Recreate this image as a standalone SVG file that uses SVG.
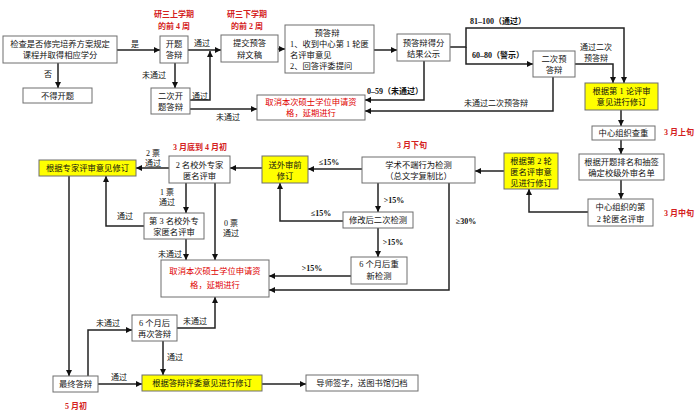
<svg xmlns="http://www.w3.org/2000/svg" width="700" height="415" viewBox="0 0 700 415">
<style>
text{font-family:"Liberation Serif","Noto Sans CJK SC",serif;font-size:8.3px;fill:#111;text-anchor:middle}
.b{fill:#fff;stroke:#6e6e6e;stroke-width:1}
.y{fill:#ffff00;stroke:#6e6e6e;stroke-width:1}
.r{fill:#e00000}
.t{fill:#d42020;font-weight:bold;font-size:8px}
.l{text-anchor:start}
.c{fill:none;stroke:#222;stroke-width:1.5;marker-end:url(#a)}
.lab{font-size:8px}
.n{font-weight:bold}
</style>
<defs>
<marker id="a" markerUnits="userSpaceOnUse" markerWidth="6" markerHeight="6" refX="6" refY="3" orient="auto">
<path d="M0,0 L6,3 L0,6 z" fill="#111"/>
</marker>
</defs>
<rect width="700" height="415" fill="#fff"/>

<g id="connectors">
<path class="c" d="M117,50 H160"/>
<path class="c" d="M58,63 V88"/>
<path class="c" d="M188,50 H221"/>
<path class="c" d="M175,63 V88"/>
<path class="c" d="M190,100 H210 V51"/>
<path class="c" d="M190,109 H257"/>
<path class="c" d="M278,49 H285"/>
<path class="c" d="M374,50 H397"/>
<path class="c" d="M450,47 H466 V28 H624 V83"/>
<path class="c" d="M466,47 V64 H533"/>
<path class="c" d="M575,64 H613 V83"/>
<path class="c" d="M553,77 V111 H365"/>
<path class="c" d="M424,61 V100 H365"/>
<path class="c" d="M621,110 V126"/>
<path class="c" d="M621,140 V154"/>
<path class="c" d="M621,180 V199"/>
<path class="c" d="M588,212 H529 V189"/>
<path class="c" d="M504,171 H475"/>
<path class="c" d="M362,169 H308"/>
<path class="c" d="M378,183 V212"/>
<path class="c" d="M343,221 H280 V183"/>
<path class="c" d="M378,228 V257"/>
<path class="c" d="M351,276 H269"/>
<path class="c" d="M449,183 V290 H269"/>
<path class="c" d="M262,168 H230"/>
<path class="c" d="M169,168 H136"/>
<path class="c" d="M186,183 V213"/>
<path class="c" d="M215,183 V260"/>
<path class="c" d="M144,226 H106 V176"/>
<path class="c" d="M186,239 V260"/>
<path class="c" d="M69,176 V376"/>
<path class="c" d="M88,376 V330 H132"/>
<path class="c" d="M177,328 H215 V297"/>
<path class="c" d="M163,341 V375"/>
<path class="c" d="M98,384 H142"/>
<path class="c" d="M262,384 H306"/>
<text class="lab" x="135" y="47">是</text>
<text class="lab" x="48" y="77">否</text>
<text class="lab" x="202" y="46">通过</text>
<text class="lab" x="154" y="78">未通过</text>
<text class="lab" x="200" y="99">通过</text>
<text class="lab" x="228" y="120">未通过</text>
<text class="lab n" x="498" y="24">81–100（通过）</text>
<text class="lab n" x="498" y="58">60–80（警示）</text>
<text class="lab" x="596" y="50">通过二次</text>
<text class="lab" x="596" y="61">预答辩</text>
<text class="lab" x="496" y="106">未通过二次预答辩</text>
<text class="lab n" x="395" y="94">0–59（未通过）</text>
<text class="lab n" x="329" y="165">≤15%</text>
<text class="lab n" x="394" y="203">&gt;15%</text>
<text class="lab n" x="321" y="216">≤15%</text>
<text class="lab n" x="393" y="245">&gt;15%</text>
<text class="lab n" x="312" y="271">&gt;15%</text>
<text class="lab n" x="466" y="224">≥30%</text>
<text class="lab" x="153" y="156">2 票</text>
<text class="lab" x="153" y="166">通过</text>
<text class="lab" x="167" y="195">1 票</text>
<text class="lab" x="167" y="205">通过</text>
<text class="lab" x="231" y="226">0 票</text>
<text class="lab" x="231" y="236">通过</text>
<text class="lab" x="125" y="219">通过</text>
<text class="lab" x="170" y="257">未通过</text>
<text class="lab" x="108" y="326">未通过</text>
<text class="lab" x="195" y="324">未通过</text>
<text class="lab" x="175" y="360">通过</text>
<text class="lab" x="119" y="380">通过</text>
</g>

<g id="time-labels">
<text class="t" x="174" y="17">研三上学期</text>
<text class="t" x="174" y="29">的前 4 周</text>
<text class="t" x="247" y="17">研三下学期</text>
<text class="t" x="247" y="29">的前 2 周</text>
<text class="t" x="679" y="135">3 月上旬</text>
<text class="t" x="679" y="216">3 月中旬</text>
<text class="t" x="412" y="148">3 月下旬</text>
<text class="t" x="200" y="150">3 月底到 4 月初</text>
<text class="t" x="76" y="409">5 月初</text>
</g>

<g id="n-check"><rect class="b" x="3" y="36" width="114" height="27"/><text x="60" y="46.5">检查是否修完培养方案规定</text><text x="60" y="57.5">课程并取得相应学分</text></g>
<g id="n-no"><rect class="b" x="23" y="88" width="69" height="15"/><text x="57.5" y="98.5">不得开题</text></g>
<g id="n-kaiti"><rect class="b" x="160" y="36" width="28" height="27"/><text x="174" y="46.5">开题</text><text x="174" y="57.5">答辩</text></g>
<g id="n-kaiti2"><rect class="b" x="151" y="88" width="39" height="26"/><text x="170.5" y="98.5">二次开</text><text x="170.5" y="109.5">题答辩</text></g>
<g id="n-submit"><rect class="b" x="221" y="35" width="57" height="27"/><text x="249.5" y="46">提交预答</text><text x="249.5" y="57.5">辩文稿</text></g>
<g id="n-pre"><rect class="b" x="285" y="25" width="89" height="48"/><text x="327" y="36">预答辩</text><text class="l" x="290" y="47">1、收到中心第 1 轮匿</text><text class="l" x="290" y="58">名评审意见</text><text class="l" x="290" y="69">2、回答评委提问</text></g>
<g id="n-score"><rect class="b" x="397" y="34" width="53" height="27"/><text x="423.5" y="46">预答辩得分</text><text x="423.5" y="57">结果公示</text></g>
<g id="n-pre2"><rect class="b" x="533" y="51" width="42" height="26"/><text x="554" y="62">二次预</text><text x="554" y="73">答辩</text></g>
<g id="n-cancel1"><rect class="b" x="257" y="95" width="108" height="25"/><text class="r" x="311" y="105">取消本次硕士学位申请资</text><text class="r" x="311" y="116">格，延期进行</text></g>
<g id="n-rev1"><rect class="y" x="585" y="83" width="73" height="27"/><text x="621.5" y="94">根据第 1 论评审</text><text x="621.5" y="105">意见进行修订</text></g>
<g id="n-dup"><rect class="b" x="592" y="126" width="63" height="14"/><text x="623.5" y="136">中心组织查重</text></g>
<g id="n-list"><rect class="b" x="579" y="154" width="85" height="26"/><text x="621.5" y="165">根据开题排名和抽签</text><text x="621.5" y="176">确定校级外审名单</text></g>
<g id="n-round2"><rect class="b" x="588" y="199" width="65" height="27"/><text x="620.5" y="210">中心组织的第</text><text x="620.5" y="222">2 轮匿名评审</text></g>
<g id="n-rev2"><rect class="y" x="504" y="153" width="54" height="36"/><text x="531" y="164">根据第 2 轮</text><text x="531" y="175">匿名评审意</text><text x="531" y="186">见进行修订</text></g>
<g id="n-plag"><rect class="b" x="362" y="157" width="113" height="26"/><text x="418.5" y="168">学术不端行为检测</text><text x="418.5" y="179">（总文字复制比）</text></g>
<g id="n-prerev"><rect class="y" x="262" y="156" width="46" height="27"/><text x="285" y="167.5">送外审前</text><text x="285" y="178.5">修订</text></g>
<g id="n-recheck"><rect class="b" x="343" y="212" width="70" height="16"/><text x="378" y="223">修改后二次检测</text></g>
<g id="n-6mcheck"><rect class="b" x="351" y="257" width="56" height="27"/><text x="379" y="267">6 个月后重</text><text x="379" y="279">新检测</text></g>
<g id="n-cancel2"><rect class="b" x="161" y="260" width="108" height="37"/><text class="r" x="215" y="274">取消本次硕士学位申请资</text><text class="r" x="215" y="288">格，延期进行</text></g>
<g id="n-ext2"><rect class="b" x="169" y="156" width="61" height="27"/><text x="199.5" y="167.5">2 名校外专家</text><text x="199.5" y="179">匿名评审</text></g>
<g id="n-extrev"><rect class="y" x="39" y="160" width="97" height="16"/><text x="87.5" y="171">根据专家评审意见修订</text></g>
<g id="n-ext3"><rect class="b" x="144" y="213" width="60" height="26"/><text x="174" y="224">第 3 名校外专</text><text x="174" y="235">家匿名评审</text></g>
<g id="n-6mdef"><rect class="b" x="132" y="315" width="45" height="26"/><text x="154.5" y="326">6 个月后</text><text x="154.5" y="337">再次答辩</text></g>
<g id="n-final"><rect class="b" x="53" y="376" width="45" height="16"/><text x="75.5" y="387">最终答辩</text></g>
<g id="n-finalrev"><rect class="y" x="142" y="375" width="120" height="16"/><text x="202" y="386">根据答辩评委意见进行修订</text></g>
<g id="n-archive"><rect class="b" x="306" y="375" width="112" height="16"/><text x="362" y="386">导师签字，送图书馆归档</text></g>
</svg>
